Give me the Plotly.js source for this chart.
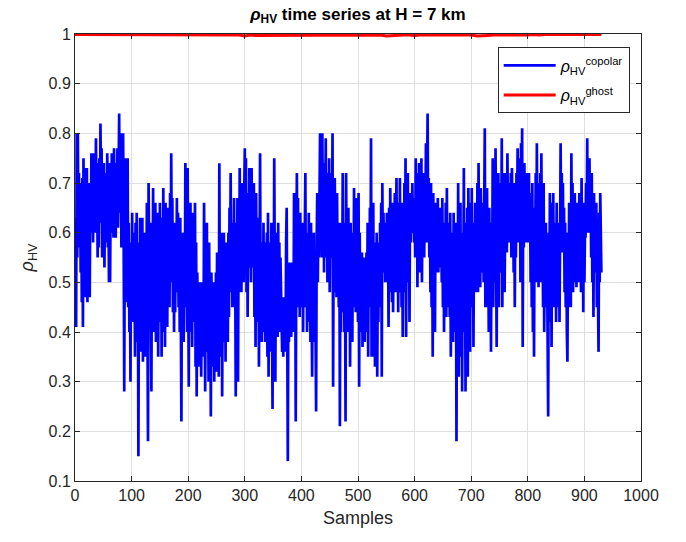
<!DOCTYPE html>
<html>
<head>
<meta charset="utf-8">
<script src="https://cdn.plot.ly/plotly-3.0.1.min.js"></script>
<style>html,body{margin:0;padding:0;background:#fff;}#chart{width:686px;height:542px;}</style>
</head>
<body>
<div id="chart"></div>
<script>
// rho_HV copolar series (samples 1..930)
const copolar = [
0.63,0.41,0.80,0.55,0.80,0.60,0.72,0.57,0.70,0.52,
0.68,0.46,0.71,0.41,0.75,0.58,0.73,0.47,0.66,0.55,
0.73,0.46,0.62,0.50,0.70,0.47,0.67,0.60,0.76,0.62,
0.72,0.58,0.76,0.63,0.70,0.60,0.79,0.66,0.74,0.55,
0.68,0.57,0.75,0.62,0.82,0.66,0.77,0.55,0.70,0.60,
0.74,0.53,0.66,0.58,0.72,0.63,0.76,0.57,0.70,0.50,
0.74,0.50,0.68,0.60,0.76,0.62,0.70,0.59,0.77,0.64,
0.72,0.59,0.74,0.65,0.77,0.61,0.70,0.84,0.64,0.72,
0.80,0.57,0.73,0.62,0.80,0.58,0.28,0.62,0.75,0.46,
0.73,0.50,0.75,0.45,0.62,0.40,0.55,0.30,0.58,0.47,
0.64,0.42,0.60,0.48,0.55,0.35,0.62,0.44,0.64,0.38,
0.58,0.15,0.50,0.40,0.63,0.36,0.55,0.42,0.63,0.34,
0.52,0.40,0.60,0.35,0.58,0.45,0.66,0.38,0.18,0.70,
0.55,0.42,0.62,0.40,0.28,0.60,0.45,0.69,0.40,0.58,
0.48,0.66,0.38,0.62,0.45,0.64,0.35,0.58,0.46,0.66,
0.42,0.63,0.35,0.60,0.48,0.69,0.40,0.62,0.37,0.66,
0.45,0.60,0.41,0.65,0.50,0.62,0.45,0.68,0.50,0.76,
0.55,0.67,0.44,0.62,0.40,0.58,0.44,0.62,0.48,0.67,
0.50,0.64,0.45,0.60,0.40,0.63,0.48,0.22,0.58,0.42,
0.60,0.38,0.55,0.45,0.74,0.50,0.62,0.40,0.73,0.45,
0.29,0.62,0.43,0.66,0.40,0.55,0.37,0.64,0.42,0.58,
0.45,0.66,0.33,0.58,0.27,0.52,0.40,0.48,0.33,0.50,
0.38,0.46,0.31,0.50,0.40,0.45,0.35,0.66,0.40,0.28,
0.55,0.40,0.62,0.36,0.50,0.30,0.58,0.38,0.45,0.23,
0.52,0.40,0.48,0.33,0.50,0.30,0.45,0.38,0.52,0.32,
0.56,0.40,0.50,0.31,0.74,0.42,0.55,0.35,0.60,0.27,
0.50,0.38,0.60,0.42,0.55,0.34,0.58,0.45,0.52,0.38,
0.60,0.43,0.65,0.50,0.72,0.48,0.62,0.45,0.60,0.50,
0.67,0.45,0.55,0.27,0.62,0.40,0.67,0.30,0.58,0.48,
0.73,0.50,0.66,0.48,0.70,0.55,0.63,0.50,0.68,0.77,
0.55,0.75,0.48,0.68,0.43,0.62,0.55,0.73,0.53,0.65,
0.50,0.73,0.58,0.66,0.53,0.70,0.43,0.62,0.37,0.68,
0.50,0.63,0.42,0.60,0.33,0.55,0.76,0.45,0.58,0.38,
0.55,0.40,0.62,0.45,0.58,0.38,0.50,0.42,0.60,0.35,
0.64,0.31,0.55,0.40,0.58,0.36,0.62,0.45,0.245,0.55,
0.40,0.75,0.48,0.30,0.60,0.42,0.55,0.39,0.62,0.45,
0.58,0.40,0.55,0.44,0.47,0.36,0.45,0.35,0.47,0.38,
0.44,0.36,0.58,0.65,0.40,0.14,0.48,0.38,0.54,0.40,
0.50,0.39,0.54,0.43,0.52,0.40,0.68,0.45,0.60,0.22,
0.55,0.72,0.48,0.67,0.45,0.60,0.43,0.64,0.50,0.58,
0.45,0.62,0.40,0.58,0.48,0.66,0.72,0.45,0.60,0.40,
0.55,0.42,0.64,0.48,0.58,0.38,0.62,0.45,0.31,0.55,
0.43,0.60,0.38,0.56,0.45,0.24,0.58,0.68,0.50,0.62,
0.55,0.70,0.80,0.60,0.72,0.55,0.80,0.62,0.74,0.52,
0.70,0.58,0.79,0.55,0.72,0.50,0.66,0.60,0.75,0.48,
0.66,0.55,0.72,0.60,0.80,0.29,0.62,0.48,0.71,0.50,
0.65,0.47,0.68,0.52,0.60,0.45,0.62,0.21,0.62,0.40,
0.58,0.44,0.72,0.48,0.62,0.40,0.55,0.22,0.72,0.50,
0.60,0.40,0.65,0.45,0.58,0.33,0.62,0.42,0.55,0.38,
0.60,0.45,0.69,0.50,0.63,0.44,0.67,0.48,0.60,0.42,
0.68,0.29,0.60,0.45,0.55,0.40,0.56,0.37,0.52,0.42,
0.55,0.38,0.50,0.44,0.56,0.40,0.62,0.35,0.58,0.45,
0.65,0.50,0.79,0.35,0.60,0.42,0.66,0.35,0.58,0.33,
0.55,0.40,0.60,0.31,0.52,0.42,0.58,0.45,0.62,0.50,
0.66,0.31,0.70,0.52,0.64,0.55,0.62,0.50,0.58,0.54,
0.64,0.50,0.60,0.41,0.65,0.48,0.69,0.52,0.62,0.46,
0.66,0.44,0.60,0.50,0.68,0.48,0.62,0.71,0.50,0.66,
0.44,0.62,0.48,0.71,0.50,0.60,0.45,0.66,0.39,0.60,
0.48,0.70,0.52,0.75,0.39,0.68,0.55,0.72,0.50,0.65,
0.42,0.68,0.58,0.66,0.60,0.70,0.62,0.65,0.58,0.67,
0.55,0.75,0.60,0.72,0.49,0.66,0.58,0.74,0.52,0.70,
0.55,0.75,0.50,0.68,0.58,0.72,0.55,0.66,0.60,0.78,
0.58,0.70,0.84,0.60,0.71,0.55,0.65,0.48,0.70,0.45,
0.60,0.35,0.68,0.45,0.62,0.40,0.66,0.52,0.60,0.55,
0.67,0.52,0.62,0.56,0.65,0.53,0.60,0.50,0.67,0.45,
0.62,0.40,0.58,0.48,0.66,0.43,0.69,0.50,0.62,0.45,
0.60,0.43,0.64,0.35,0.55,0.42,0.60,0.38,0.64,0.45,
0.55,0.40,0.62,0.18,0.58,0.45,0.70,0.31,0.62,0.40,
0.66,0.35,0.55,0.28,0.60,0.45,0.73,0.40,0.62,0.28,
0.58,0.42,0.65,0.31,0.69,0.45,0.60,0.36,0.66,0.50,
0.69,0.45,0.62,0.37,0.60,0.50,0.66,0.48,0.64,0.55,
0.70,0.48,0.74,0.55,0.66,0.49,0.69,0.52,0.64,0.56,
0.66,0.50,0.62,0.81,0.45,0.68,0.50,0.69,0.45,0.62,
0.40,0.65,0.48,0.60,0.36,0.62,0.50,0.75,0.45,0.66,
0.50,0.70,0.77,0.55,0.37,0.65,0.50,0.72,0.45,0.68,
0.52,0.70,0.55,0.79,0.45,0.66,0.55,0.72,0.48,0.62,
0.60,0.72,0.56,0.76,0.62,0.70,0.58,0.68,0.63,0.72,
0.55,0.73,0.60,0.68,0.52,0.70,0.45,0.66,0.55,0.72,
0.60,0.77,0.58,0.70,0.62,0.75,0.50,0.78,0.60,0.81,
0.37,0.70,0.57,0.74,0.60,0.68,0.58,0.72,0.62,0.66,
0.58,0.72,0.60,0.68,0.50,0.66,0.45,0.70,0.40,0.62,
0.35,0.65,0.55,0.72,0.50,0.78,0.55,0.70,0.49,0.66,
0.55,0.72,0.50,0.76,0.52,0.62,0.45,0.70,0.40,0.60,
0.50,0.62,0.45,0.55,0.38,0.23,0.60,0.45,0.68,0.42,
0.62,0.37,0.66,0.50,0.68,0.45,0.60,0.48,0.62,0.42,
0.66,0.45,0.60,0.50,0.62,0.42,0.58,0.78,0.56,0.72,
0.60,0.70,0.56,0.65,0.48,0.62,0.45,0.60,0.40,0.34,
0.58,0.45,0.66,0.50,0.62,0.45,0.76,0.52,0.70,0.48,
0.66,0.50,0.68,0.56,0.62,0.49,0.66,0.55,0.60,0.50,
0.68,0.52,0.64,0.48,0.71,0.55,0.62,0.44,0.66,0.50,
0.60,0.59,0.70,0.62,0.79,0.60,0.72,0.62,0.75,0.60,
0.68,0.55,0.72,0.50,0.65,0.43,0.68,0.52,0.62,0.55,
0.66,0.45,0.60,0.40,0.36,0.64,0.50,0.68,0.55,0.52
];
// rho_HV ghost series, read every 10 samples (0..930)
const ghostSamples = [0,10,20,30,40,50,60,70,80,90,100,110,120,130,140,150,160,170,180,190,200,210,220,230,240,250,260,270,280,
290,300,310,320,330,340,350,360,370,380,390,400,410,420,430,440,450,460,470,480,490,500,510,520,530,540,550,560,570,580,
590,600,610,620,630,640,650,660,670,680,690,700,710,720,730,740,750,760,770,780,790,800,810,820,830,840,850,860,870,880,
890,900,910,920,930];
const ghost = [
0.999,0.999,0.999,0.999,0.999,0.999,0.999,0.999,0.999,0.999,
0.999,0.999,0.999,0.999,0.999,0.999,0.999,0.999,0.999,0.999,
0.999,0.999,0.999,0.999,0.999,0.999,0.999,0.999,0.998,
0.998,0.996,0.998,0.997,0.997,0.998,0.998,0.997,0.998,0.998,
0.997,0.998,0.998,0.998,0.997,0.998,0.998,0.997,0.998,0.998,
0.998,0.997,0.998,0.998,0.998,0.998,0.996,0.997,0.998,0.998,
0.998,0.997,0.998,0.998,0.997,0.998,0.998,0.997,0.998,0.998,
0.997,0.998,0.996,0.996,0.997,0.998,0.998,0.997,0.998,0.998,
0.998,0.998,
0.999,0.998,0.999,0.999,0.998,0.999,0.999,0.998,0.999,0.999,0.998,0.999,0.999
];
const samples = copolar.map((_, i) => i + 1);
const xTicks = [0,100,200,300,400,500,600,700,800,900,1000];
const yTicks = [0.1,0.2,0.3,0.4,0.5,0.6,0.7,0.8,0.9,1];

const FONT = 'Liberation Sans, Arial, Helvetica, sans-serif';
const AX = '#262626';

const traces = [
  {x: samples, y: copolar, type: 'scatter', mode: 'lines',
   name: '<i>ρ</i><sub>HV</sub><sup>copolar</sup>', legendgroup: 'a',
   line: {color: '#0000ff', width: 2.7}},
  {x: ghostSamples, y: ghost, type: 'scatter', mode: 'lines',
   name: '<i>ρ</i><sub>HV</sub><sup>ghost</sup>', legendgroup: 'b',
   line: {color: '#ff0000', width: 3}}
];

const axisCommon = {
  showline: true, linecolor: AX, linewidth: 1, mirror: 'ticks',
  ticks: 'inside', ticklen: 5, tickcolor: AX, tickwidth: 1,
  showgrid: true, gridcolor: '#dfdfdf', gridwidth: 1,
  zeroline: false,
  tickfont: {family: FONT, size: 16, color: AX}
};

const layout = {
  width: 686, height: 542,
  margin: {l: 75, r: 45, t: 34, b: 61},
  paper_bgcolor: '#ffffff', plot_bgcolor: '#ffffff',
  font: {family: FONT, color: AX},
  title: {
    text: '<b><i>ρ</i><sub>HV</sub> time series at H = 7 km</b>',
    font: {family: FONT, size: 17, color: '#000000'},
    x: 0.5, xref: 'paper', xanchor: 'center',
    y: 0.975, yref: 'container', yanchor: 'middle'
  },
  xaxis: Object.assign({}, axisCommon, {
    range: [0, 1000], tickvals: xTicks, ticktext: xTicks.map(String),
    title: {text: 'Samples', font: {family: FONT, size: 18, color: AX}, standoff: 8}
  }),
  yaxis: Object.assign({}, axisCommon, {
    range: [0.1, 1], tickvals: yTicks, ticktext: yTicks.map(String),
    title: {text: '<i>ρ</i><sub>HV</sub>', font: {family: FONT, size: 18, color: AX}, standoff: 10}
  }),
  showlegend: true,
  legend: {
    x: 0.98, y: 0.97, xanchor: 'right', yanchor: 'top',
    bgcolor: '#ffffff', bordercolor: AX, borderwidth: 1,
    font: {family: FONT, size: 16, color: '#000000'},
    itemwidth: 52, traceorder: 'grouped', tracegroupgap: 6
  }
};

Plotly.newPlot('chart', traces, layout, {displayModeBar: false, staticPlot: true});
</script>
</body>
</html>
